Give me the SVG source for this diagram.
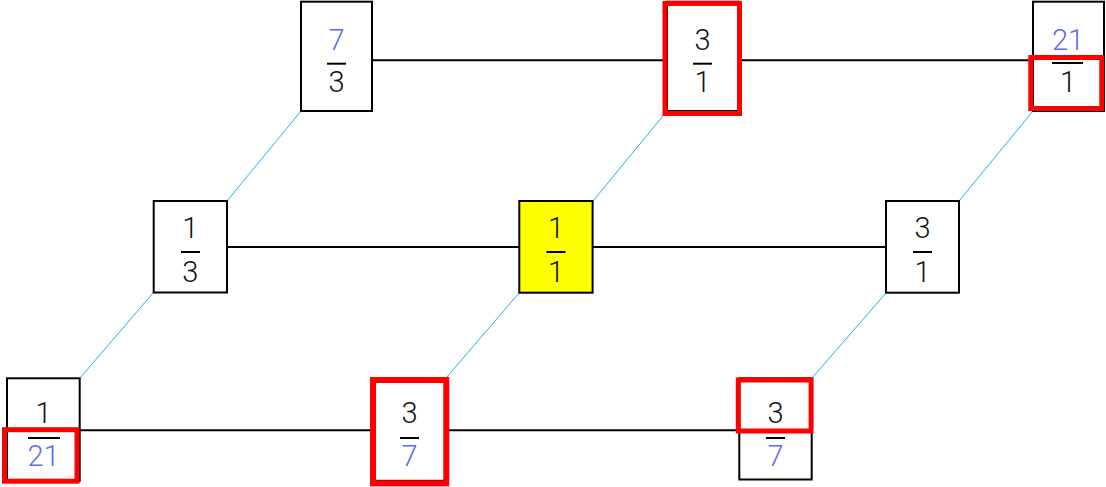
<svg xmlns="http://www.w3.org/2000/svg" width="1106" height="487" viewBox="0 0 1106 487">
<style>
.box{fill:#fff;stroke:#000;stroke-width:2}
.hl{stroke:#000;stroke-width:2;fill:none}
.dg{stroke:#22b0ea;stroke-width:1;fill:none}
.bar{stroke:#000;stroke-width:2}
.red{fill:none;stroke:#ff0000;stroke-width:5}
text{font-family:Roboto,"Liberation Sans",sans-serif;font-size:29px;font-weight:300;text-anchor:middle;fill:#111}
.b{fill:#5c6bf2}
</style>
<rect width="1106" height="487" fill="#fff"/>
<g id="connectors">
<line class="hl" x1="336" y1="60.3" x2="1068" y2="60.3"/>
<line class="hl" x1="190" y1="247" x2="922" y2="247"/>
<line class="hl" x1="43" y1="430.3" x2="775" y2="430.3"/>
<line class="dg" x1="301" y1="111" x2="227" y2="201"/>
<line class="dg" x1="153" y1="293" x2="80" y2="378"/>
<line class="dg" x1="667" y1="111" x2="593" y2="201"/>
<line class="dg" x1="519" y1="293" x2="446" y2="378"/>
<line class="dg" x1="1033" y1="111" x2="959" y2="201"/>
<line class="dg" x1="886" y1="293" x2="812" y2="378"/>
</g>
<g id="n73">
<rect class="box" x="301" y="1.7" width="71" height="109.3"/>
<text class="b" x="336.5" y="50">7</text>
<line class="bar" x1="327" y1="63.7" x2="346" y2="63.7"/>
<text x="336.5" y="92">3</text>
</g>
<g id="n31top">
<rect class="box" x="667" y="1.7" width="71" height="109.3"/>
<text x="702.5" y="50">3</text>
<line class="bar" x1="693" y1="63.7" x2="712" y2="63.7"/>
<text x="702.5" y="92">1</text>
<rect class="red" x="665" y="3.5" width="74.5" height="110"/>
</g>
<g id="n211">
<rect class="box" x="1033" y="1.7" width="71" height="109.3"/>
<text class="b" x="1068" y="50">21</text>
<line class="bar" x1="1052" y1="63" x2="1083" y2="63"/>
<text x="1068" y="92">1</text>
<rect class="red" x="1030.8" y="57.5" width="71" height="51"/>
</g>
<g id="n13">
<rect class="box" x="153.7" y="201" width="73.3" height="91.5"/>
<text x="190.3" y="238">1</text>
<line class="bar" x1="181" y1="252" x2="200" y2="252"/>
<text x="190.3" y="282">3</text>
</g>
<g id="n11">
<rect class="box" x="519.3" y="201" width="73.3" height="91.7" style="fill:#ffff00"/>
<text x="556" y="238">1</text>
<line class="bar" x1="546.5" y1="252" x2="565.5" y2="252"/>
<text x="556" y="282">1</text>
</g>
<g id="n31mid">
<rect class="box" x="886" y="201" width="73" height="91.7"/>
<text x="922.5" y="238">3</text>
<line class="bar" x1="913" y1="252" x2="932" y2="252"/>
<text x="922.5" y="282">1</text>
</g>
<g id="n121">
<rect class="box" x="7" y="378.3" width="72.7" height="102.5"/>
<text x="43.5" y="423">1</text>
<line class="bar" x1="28" y1="438" x2="60" y2="438"/>
<text class="b" x="43.5" y="466">21</text>
<rect class="red" x="4.5" y="429.7" width="72.5" height="51.5"/>
</g>
<g id="n37mid">
<rect class="box" x="373" y="378.3" width="73" height="102.5"/>
<text x="409.5" y="423">3</text>
<line class="bar" x1="400" y1="438" x2="419" y2="438"/>
<text class="b" x="409.5" y="466">7</text>
<rect class="red" x="373" y="380" width="73.3" height="103.3" style="stroke-width:6"/>
</g>
<g id="n37right">
<rect class="box" x="739.3" y="378.3" width="72.4" height="101.2"/>
<text x="775.5" y="423">3</text>
<line class="bar" x1="766" y1="438" x2="785" y2="438"/>
<text class="b" x="775.5" y="466">7</text>
<rect class="red" x="738.3" y="380" width="72.8" height="51"/>
</g>
</svg>
